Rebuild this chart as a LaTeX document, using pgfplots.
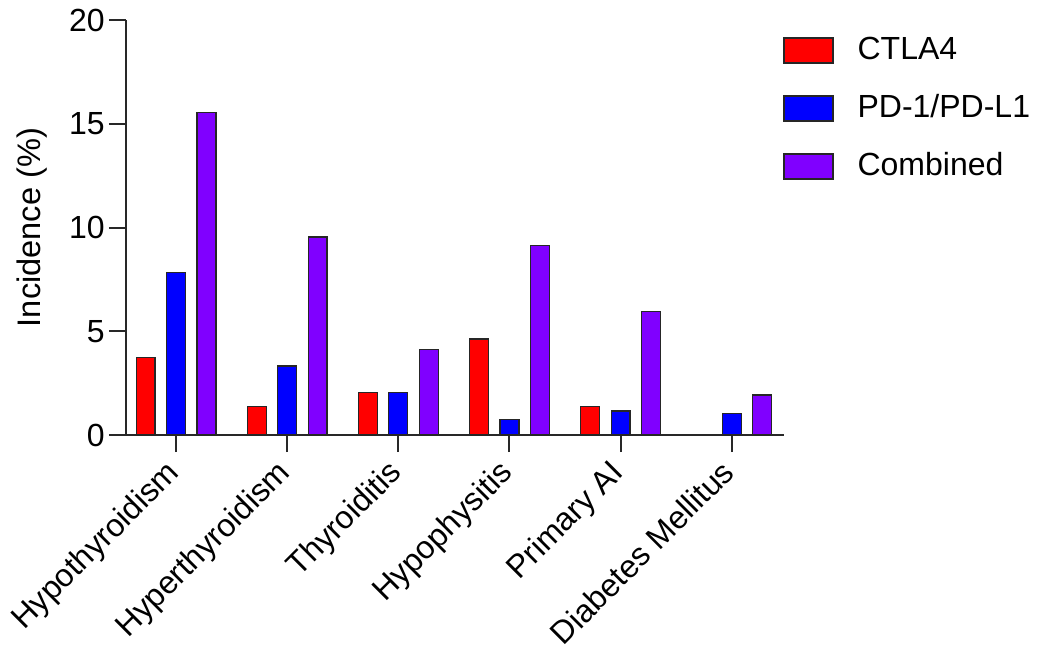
\documentclass[border=0pt]{standalone}
\usepackage{fontspec}
\setmainfont{Liberation Sans}
\usepackage{pgfplots}
\pgfplotsset{compat=1.18}
\definecolor{cred}{RGB}{255,0,0}
\definecolor{cblue}{RGB}{0,0,255}
\definecolor{cpurple}{RGB}{128,0,255}
\definecolor{axisgray}{RGB}{40,40,40}
\pgfplotsset{
  mylegend/.style={legend image code/.code={\draw[##1, line width=0.6pt] (0pt,-6.25pt) rectangle (24.5pt,6.25pt);}},
  mybar/.style={ybar, bar width=0.17, draw=black!85, line width=0.6pt, mylegend}
}
\begin{document}
\begin{tikzpicture}
\useasboundingbox (-63pt,-107.5pt) rectangle (462pt,217.5pt);
\begin{axis}[
  at={(0,0)}, anchor=south west,
  scale only axis, width=329pt, height=207.5pt,
  xmin=-0.45, xmax=5.47, ymin=0, ymax=20,
  axis x line=bottom, axis y line=left,
  axis line style={-, line width=1pt, axisgray},
  ytick={0,5,10,15,20},
  xtick={0,1,2,3,4,5},
  xticklabels={Hypothyroidism, Hyperthyroidism, Thyroiditis, Hypophysitis, Primary AI, Diabetes Mellitus},
  tick align=outside, major tick length=8.5pt,
  tick style={line width=1pt, axisgray},
  minor tick num=0,
  /pgf/number format/assume math mode=true,
  ticklabel style={font=\fontsize{16}{19}\selectfont},
  yticklabel style={inner sep=2pt},
  xticklabel style={rotate=45, anchor=north east, inner sep=2pt, xshift=-4.24pt, yshift=4.24pt},
  ylabel={Incidence (\%)},
  ylabel style={font=\fontsize{16.3}{19}\selectfont},
  ylabel shift=5.5pt,
  legend style={at={(1,1)}, anchor=north west, draw=none, fill=none,
    xshift=-3.5pt, yshift=-5.5pt,
    font=\fontsize{16}{19}\selectfont, row sep=14pt,
    nodes={inner sep=0pt, text height=12pt, text depth=3pt},
    /tikz/every odd column/.append style={column sep=12pt}},
  legend cell align=left,
  clip=false,
]
\addplot[mybar, fill=cred, bar shift=-0.274] coordinates {(0,3.73) (1,1.38) (2,2.06) (3,4.63) (4,1.37)};
\addplot[mybar, fill=cblue, bar shift=0] coordinates {(0,7.82) (1,3.33) (2,2.06) (3,0.76) (4,1.16) (5,1.03)};
\addplot[mybar, fill=cpurple, bar shift=0.274] coordinates {(0,15.53) (1,9.54) (2,4.14) (3,9.12) (4,5.94) (5,1.93)};
\legend{CTLA4, PD-1/PD-L1, Combined}
\end{axis}
\end{tikzpicture}
\end{document}
